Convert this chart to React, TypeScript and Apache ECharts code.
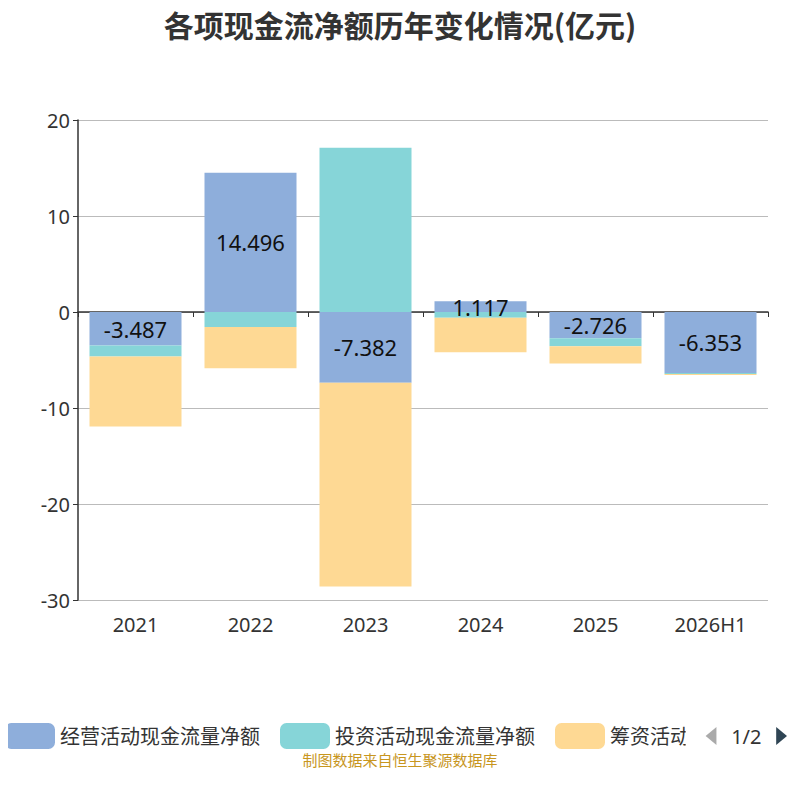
import { useRef, useEffect } from "react";
import * as echarts from "echarts";

const years = ["2021", "2022", "2023", "2024", "2025", "2026H1"];
const operating = [-3.487, 14.496, -7.382, 1.117, -2.726, -6.353];
const investing = [-1.15, -1.55, 17.1, -0.6, -0.85, -0.1];
const financing = [-7.3, -4.3, -21.2, -3.6, -1.8, -0.1];
const seriesNames = ["经营活动现金流量净额", "投资活动现金流量净额", "筹资活动现金流量净额"];

const App = () => {
  const chartRef = useRef(null);

  useEffect(() => {
    if (!chartRef.current) return;
    const chart = echarts.init(chartRef.current, null, { renderer: "svg" });
    const font = "'Noto Sans', 'Noto Sans CJK SC', sans-serif";
    chart.setOption({
      animation: false,
      textStyle: { fontFamily: font },
      title: {
        text: "各项现金流净额历年变化情况(亿元)",
        left: "center",
        top: -4,
        textStyle: { fontSize: 30, fontWeight: "bold", color: "#333", fontFamily: "'Noto Sans CJK SC', sans-serif" },
      },
      grid: { left: 70, right: 24, top: 112, bottom: 192 },
      legend: {
        type: "scroll",
        bottom: 38,
        left: -8,
        right: 10,
        itemWidth: 50,
        itemHeight: 26,
        itemGap: 20,
        textStyle: { fontSize: 20, color: "#333" },
        pageIconSize: 18,
        pageIconColor: "#2f4554",
        pageIconInactiveColor: "#aaa",
        pageTextStyle: { fontSize: 20, color: "#333" },
        data: seriesNames,
      },
      graphic: [
        {
          type: "text",
          x: 0,
          y: 120,
          rotation: -Math.PI / 2,
          style: { text: "(亿元)", fill: "#e00", fontSize: 15, fontFamily: font },
        },
        {
          type: "text",
          left: "center",
          top: 744,
          style: { text: "制图数据来自恒生聚源数据库", fill: "#c8961e", fontSize: 15, fontFamily: font },
        },
      ],
      xAxis: [
        {
          type: "category",
          data: years,
          axisLine: { onZero: false, show: false },
          axisTick: { show: false },
          axisLabel: { fontSize: 20, color: "#333", margin: 14 },
        },
        {
          type: "category",
          data: years,
          position: "bottom",
          axisLine: { onZero: true, lineStyle: { color: "#333", width: 1.5 } },
          axisTick: { show: true, lineStyle: { color: "#333" } },
          axisLabel: { show: false },
        },
      ],
      yAxis: {
        type: "value",
        min: -30,
        max: 20,
        interval: 10,
        axisLine: { show: true, lineStyle: { color: "#333", width: 1.5 } },
        axisTick: { show: true },
        axisLabel: { fontSize: 20, color: "#333" },
        splitLine: { lineStyle: { color: "#bbb" } },
      },
      series: [
        {
          name: seriesNames[0],
          type: "bar",
          stack: "total",
          barWidth: "80%",
          data: operating,
          itemStyle: { color: "#8eaedb" },
          label: { show: true, position: "inside", fontSize: 22, color: "#111", formatter: (p: any) => p.value.toFixed(3) },
        },
        { name: seriesNames[1], type: "bar", stack: "total", data: investing, itemStyle: { color: "#86d5d8" } },
        { name: seriesNames[2], type: "bar", stack: "total", data: financing, itemStyle: { color: "#fed994" } },
      ],
    });
    return () => chart.dispose();
  }, []);

  return <div ref={chartRef} style={{ width: "784px", height: "784px" }} />;
};

export default App;
